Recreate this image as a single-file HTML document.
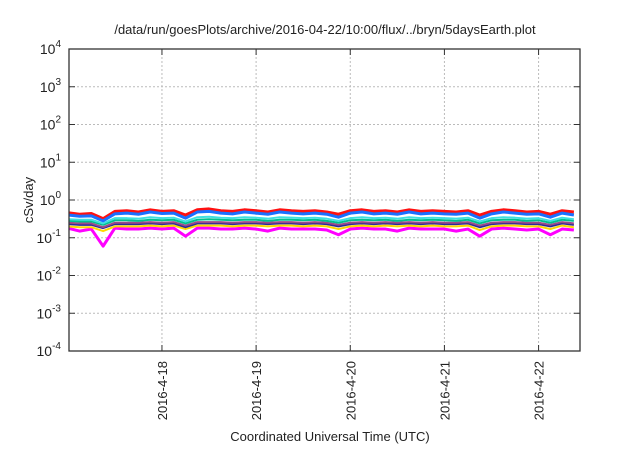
<!DOCTYPE html>
<html><head><meta charset="utf-8"><style>
body{margin:0;background:#fff;}
svg text{font-family:"Liberation Sans",sans-serif;fill:#222;}
</style></head><body>
<svg id="chart" width="640" height="448">
<defs><clipPath id="clip"><rect x="69" y="49" width="511" height="302"/></clipPath></defs>
<text x="325" y="34" text-anchor="middle" font-size="13">/data/run/goesPlots/archive/2016-04-22/10:00/flux/../bryn/5daysEarth.plot</text>
<text transform="translate(33,200) rotate(-90)" text-anchor="middle" font-size="13">cSv/day</text>
<text x="330" y="441" text-anchor="middle" font-size="13">Coordinated Universal Time (UTC)</text>
<g id="grid"></g><g id="series" clip-path="url(#clip)"></g><g id="axes"></g>
</svg>
<script>
const yTicks=[4,3,2,1,0,-1,-2,-3,-4];
const xTickDays=[1,2,3,4,5];
const xTickLabels=["2016-4-18","2016-4-19","2016-4-20","2016-4-21","2016-4-22"];
const stepHours=3;
const red=[0.46,0.42,0.44,0.32,0.50,0.52,0.48,0.55,0.50,0.52,0.40,0.55,0.58,0.52,0.50,0.55,0.52,0.48,0.55,0.52,0.50,0.52,0.48,0.42,0.52,0.55,0.50,0.52,0.48,0.55,0.50,0.52,0.50,0.48,0.52,0.40,0.50,0.55,0.52,0.48,0.50,0.42,0.52,0.48];
const blue=[0.40,0.37,0.38,0.28,0.43,0.45,0.42,0.48,0.44,0.45,0.33,0.48,0.50,0.45,0.43,0.48,0.45,0.42,0.48,0.45,0.43,0.45,0.42,0.35,0.45,0.48,0.43,0.45,0.42,0.48,0.43,0.45,0.43,0.42,0.45,0.33,0.43,0.48,0.45,0.42,0.43,0.35,0.45,0.40];
const cyan=[0.31,0.30,0.30,0.24,0.33,0.33,0.32,0.35,0.33,0.34,0.27,0.35,0.36,0.34,0.33,0.35,0.34,0.32,0.35,0.34,0.33,0.34,0.32,0.28,0.33,0.35,0.33,0.34,0.32,0.35,0.33,0.34,0.33,0.32,0.34,0.27,0.33,0.35,0.34,0.32,0.33,0.28,0.34,0.31];
const green=[0.28,0.27,0.27,0.22,0.29,0.29,0.28,0.30,0.29,0.30,0.24,0.30,0.31,0.30,0.29,0.30,0.30,0.28,0.30,0.30,0.29,0.30,0.28,0.25,0.29,0.30,0.29,0.30,0.28,0.30,0.29,0.30,0.29,0.28,0.30,0.24,0.29,0.30,0.30,0.28,0.29,0.25,0.30,0.28];
const purple=[0.25,0.24,0.24,0.19,0.25,0.25,0.25,0.26,0.25,0.26,0.21,0.26,0.26,0.26,0.25,0.26,0.26,0.25,0.26,0.26,0.25,0.26,0.25,0.22,0.25,0.26,0.25,0.26,0.25,0.26,0.25,0.26,0.25,0.25,0.26,0.21,0.25,0.26,0.26,0.25,0.25,0.22,0.26,0.24];
const navy=[0.23,0.22,0.22,0.18,0.23,0.23,0.23,0.24,0.23,0.24,0.19,0.24,0.24,0.24,0.23,0.24,0.24,0.23,0.24,0.24,0.23,0.24,0.23,0.20,0.23,0.24,0.23,0.24,0.23,0.24,0.23,0.24,0.23,0.23,0.24,0.19,0.23,0.24,0.24,0.23,0.23,0.20,0.24,0.22];
const yellow=[0.20,0.19,0.19,0.15,0.20,0.20,0.20,0.21,0.20,0.21,0.17,0.21,0.21,0.21,0.20,0.21,0.21,0.20,0.21,0.21,0.20,0.21,0.20,0.17,0.20,0.21,0.20,0.21,0.20,0.21,0.20,0.21,0.20,0.20,0.21,0.16,0.20,0.21,0.21,0.20,0.20,0.17,0.21,0.19];
const magenta=[0.18,0.15,0.17,0.06,0.18,0.17,0.17,0.18,0.17,0.18,0.11,0.18,0.18,0.17,0.17,0.18,0.17,0.15,0.18,0.17,0.17,0.17,0.16,0.12,0.17,0.18,0.17,0.17,0.15,0.18,0.17,0.17,0.17,0.15,0.17,0.11,0.17,0.18,0.17,0.16,0.17,0.12,0.17,0.16];
const seriesList=[[magenta,"#ff00ff",3],[yellow,"#ffd700",2],[navy,"#2a2a9a",2],[purple,"#9a4a8a",2],[green,"#00c090",2],[cyan,"#40e0e0",2],[red,"#ff1010",3],[blue,"#1a70ff",3]];
const L=69,R=580,T=49,B=351,dMin=0.0127,dMax=5.44;
const xs=d=>L+(d-dMin)/(dMax-dMin)*(R-L);
const ys=v=>B-(Math.log10(v)+4)/8*(B-T);
const NS="http://www.w3.org/2000/svg";
function mk(tag,attrs,parent){const e=document.createElementNS(NS,tag);for(const k in attrs)e.setAttribute(k,attrs[k]);parent.appendChild(e);return e;}
const grid=document.getElementById('grid'),axes=document.getElementById('axes'),ser=document.getElementById('series');
yTicks.forEach(p=>{const y=ys(Math.pow(10,p));
 if(p<4&&p>-4){const g=mk('line',{x1:L,x2:R,y1:y,y2:y,stroke:'#bbb','stroke-dasharray':'2,2','stroke-width':1},grid);
 
 }
 const t1=mk('line',{x1:L,x2:L+6,y1:y,y2:y,stroke:'#333'},axes);
 
 
 mk('line',{x1:R-6,x2:R,y1:y,y2:y,stroke:'#333'},axes);
 const t=mk('text',{x:L-8,y:y+5,'text-anchor':'end','font-size':14},axes);
 
 
 t.textContent='10';const s=mk('tspan',{dy:-7,'font-size':10},t);s.textContent=String(p);
});
xTickDays.forEach((d,i)=>{const x=xs(d);
 const g=mk('line',{x1:x,x2:x,y1:T,y2:B,stroke:'#bbb','stroke-dasharray':'2,2'},grid);
 
 
 mk('line',{x1:x,x2:x,y1:B-6,y2:B,stroke:'#333'},axes);
 mk('line',{x1:x,x2:x,y1:T,y2:T+6,stroke:'#333'},axes);
 const t=mk('text',{transform:`translate(${x+5},${B+10}) rotate(-90)`,'text-anchor':'end','font-size':13},axes);
 
 
 t.textContent=xTickLabels[i];
});
const frame=mk('rect',{x:L,y:T,width:R-L,height:B-T,fill:'none',stroke:'#333','stroke-width':1.3},axes);


seriesList.forEach(([arr,col,w])=>{
 const pts=arr.map((v,i)=>xs(i*stepHours/24)+','+ys(v)).join(' ');
 const p=mk('polyline',{points:pts,fill:'none',stroke:col,'stroke-width':w,'stroke-linejoin':'round'},ser);
 
 
});
</script>
</body></html>
